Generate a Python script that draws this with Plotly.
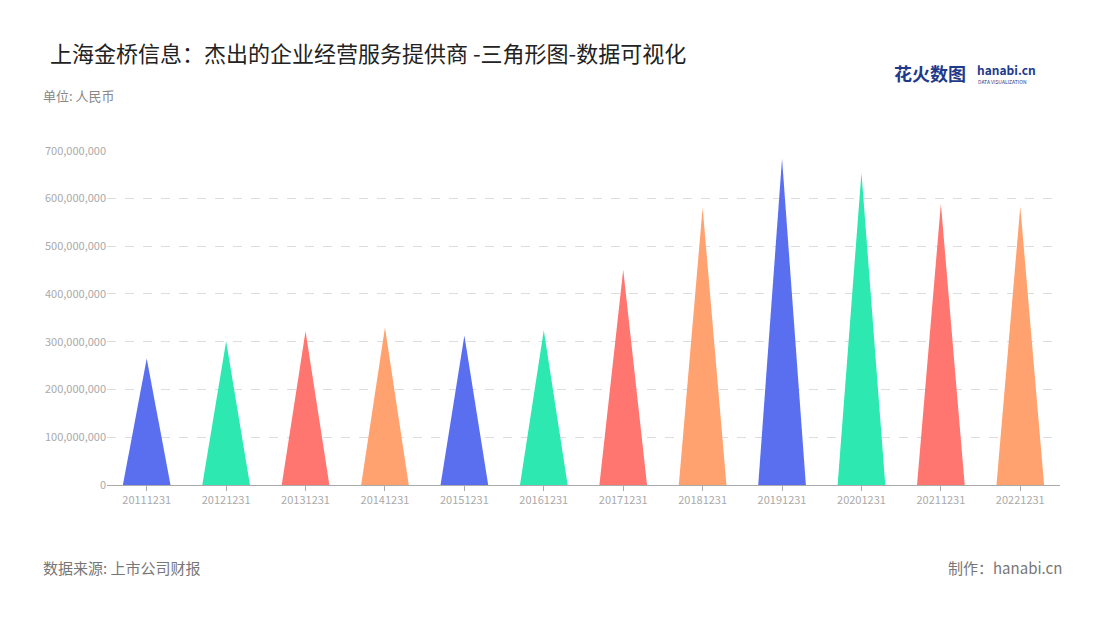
import plotly.graph_objects as go

categories = ["20111231","20121231","20131231","20141231","20151231","20161231",
              "20171231","20181231","20191231","20201231","20211231","20221231"]
values = [265e6, 301e6, 322e6, 330e6, 313e6, 324e6, 451e6, 581e6, 683e6, 654e6, 589e6, 583e6]
palette = ["#5a6ff0", "#2de8b0", "#ff7570", "#ffa26f"]

fig = go.Figure()
hw = 0.3
for i, (c, v) in enumerate(zip(categories, values)):
    fig.add_trace(go.Scatter(
        x=[i - hw, i, i + hw, i - hw], y=[0, v, 0, 0],
        fill="toself", fillcolor=palette[i % 4], mode="lines",
        line=dict(width=0, color=palette[i % 4]), showlegend=False, name=c))

OFF = 8  # page body margin
X0, X1, Y0, Y1 = 107, 1060, 150, 485
fig.update_layout(
    width=1100, height=620, plot_bgcolor="white", paper_bgcolor="white",
    margin=dict(l=X0 - OFF, r=1100 + OFF - X1, t=Y0 - OFF, b=620 + OFF - Y1),
    font=dict(family="Noto Sans CJK SC", color="#999"),
    title=dict(text="上海金桥信息：杰出的企业经营服务提供商 -三角形图-数据可视化",
               x=(50 - OFF) / 1100, y=1 - (54 - OFF) / 620, xanchor="left", yanchor="middle",
               font=dict(size=22, color="#222")),
    xaxis=dict(range=[-0.5, 11.5], tickvals=list(range(12)), ticktext=categories,
               showgrid=False, showline=True, linecolor="#aaa", ticks="outside",
               tickcolor="#aaa", tickfont=dict(size=11, color="#aaa"), zeroline=False),
    yaxis=dict(range=[0, 701.5e6], dtick=100e6, tickformat=",d", showgrid=True,
               gridcolor="#ddd", griddash="dash", zeroline=False,
               tickfont=dict(size=11, color="#aaa"), ticks=""),
)

def ann_px(text, px, py, size, color, xanchor="left", bold=False):
    fig.add_annotation(text=("<b>%s</b>" % text) if bold else text,
                       x=(px - X0) / (X1 - X0), y=(Y1 - py) / (Y1 - Y0),
                       xref="paper", yref="paper", xanchor=xanchor, yanchor="middle",
                       showarrow=False, font=dict(size=size, color=color))
ann_px("单位: 人民币", 41, 96, 13, "#888")
ann_px("数据来源: 上市公司财报", 41, 567, 15, "#777")
ann_px("制作：hanabi.cn", 1064, 567, 15, "#777", xanchor="right")
ann_px("花火数图", 892, 73, 18, "#1f3a8a", bold=True)
ann_px("hanabi.cn", 975, 69, 12, "#1f3a8a", bold=True)
ann_px("DATA VISUALIZATION", 976, 82, 5, "#1f3a8a")
fig.write_html("out.html")
